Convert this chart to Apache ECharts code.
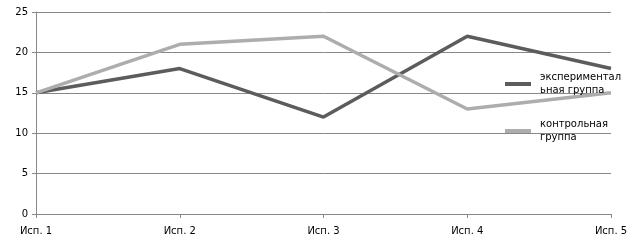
<!DOCTYPE html>
<html><head><meta charset="utf-8">
<script src="https://cdn.jsdelivr.net/npm/echarts@6/dist/echarts.min.js"></script>
<style>html,body{margin:0;padding:0;background:#fff}#c{width:641px;height:242px}</style>
</head><body><div id="c"></div>
<script>
const categories = ['Исп. 1','Исп. 2','Исп. 3','Исп. 4','Исп. 5'];
const experimental = [15, 18, 12, 22, 18];
const control = [15, 21, 22, 13, 15];
const seriesNames = ['экспериментал\nьная группа', 'контрольная\nгруппа'];

const chart = echarts.init(document.getElementById('c'), null, {renderer:'canvas'});
const font = 'DejaVu Sans';
chart.setOption({
  animation:false,
  backgroundColor:'#fff',
  grid:{left:36, right:30, top:12, bottom:28, containLabel:false},
  legend:{
    orient:'vertical', left:505, top:71, itemGap:21, padding:0,
    itemWidth:26, itemHeight:4, icon:'rect',
    textStyle:{fontFamily:font, fontSize:10, color:'#000', lineHeight:13, padding:[0,0,0,4]},
    data:seriesNames
  },
  xAxis:{
    type:'category', data:categories, boundaryGap:false,
    axisLine:{lineStyle:{color:'#888', width:1}},
    axisTick:{show:true, length:4, lineStyle:{color:'#888'}},
    axisLabel:{fontFamily:font, fontSize:10, color:'#000', margin:12},
    splitLine:{show:false}
  },
  yAxis:{
    type:'value', min:0, max:25, interval:5,
    axisLine:{show:true, lineStyle:{color:'#888'}},
    axisTick:{show:true, length:4, lineStyle:{color:'#888'}},
    axisLabel:{fontFamily:font, fontSize:10, color:'#000', margin:8},
    splitLine:{lineStyle:{color:'#888', width:1}}
  },
  series:[
    {name:seriesNames[0], type:'line', data:experimental, symbol:'none',
     lineStyle:{color:'#5c5c5c', width:3.5}, itemStyle:{color:'#5c5c5c'}, z:2},
    {name:seriesNames[1], type:'line', data:control, symbol:'none',
     lineStyle:{color:'#adadad', width:3.5}, itemStyle:{color:'#adadad'}, z:3}
  ]
});
</script></body></html>
